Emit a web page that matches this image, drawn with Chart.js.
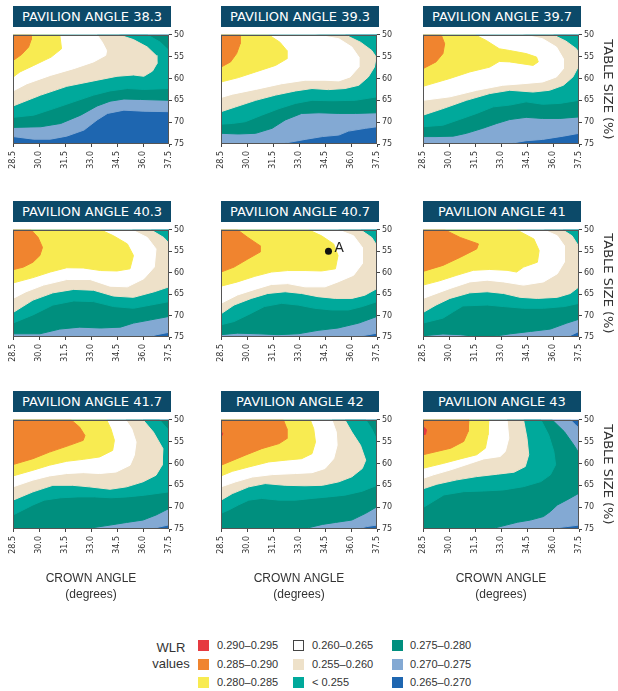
<!DOCTYPE html>
<html>
<head>
<meta charset="utf-8">
<script src="https://cdn.jsdelivr.net/npm/chart.js@4.4.1/dist/chart.umd.min.js"></script>
<style>
  body { margin: 0; background: #fff; width: 618px; height: 691px; position: relative; overflow: hidden; font-family: 'Liberation Sans', sans-serif; color: #333; }
  canvas { position: absolute; }
  .ttl { position: absolute; height: 21px; background: #0c4a69; color: #fff; font: 13px 'DejaVu Sans', sans-serif; line-height: 21px; text-align: center; white-space: nowrap; }
  .wlr { position: absolute; left: 140px; top: 640px; width: 62px; text-align: center; font-size: 13px; line-height: 16px; }
  .sw { position: absolute; width: 11px; height: 11px; box-sizing: border-box; }
  .lt { position: absolute; font-size: 11px; line-height: 11px; white-space: nowrap; }
</style>
</head>
<body>
<script>
// axes
const crownTicks = [28.5, 30.0, 31.5, 33.0, 34.5, 36.0, 37.5];
const crownLabels = ['28.5', '30.0', '31.5', '33.0', '34.5', '36.0', '37.5'];
const tableTicks = [50, 55, 60, 65, 70, 75];
const tableLabels = ['50', '55', '60', '65', '70', '75'];

const pavilionAngles = ['38.3', '39.3', '39.7', '40.3', '40.7', '41', '41.7', '42', '43'];
const wlrRanges = ['0.290–0.295', '0.285–0.290', '0.280–0.285', '0.260–0.265', '0.255–0.260', '< 0.255', '0.275–0.280', '0.270–0.275', '0.265–0.270'];
const bandColors = ['#e63a40', '#f0842f', '#f8eb51', '#ffffff', '#eee1c9', '#00a99b', '#008f7e', '#83a9d3', '#1e66b0'];

const pointA = [{x: 34.7, y: 55.0}];

// outline of each band together with everything inside it, [crown, table]
// index = band in wlrRanges order, null = band not present
const full = [[28.5, 50], [37.5, 50], [37.5, 75], [28.5, 75]];

const pav38_3 = [
  null,
  [[28.5,50],[29.55,50],[29.55,51.1],[29.4,52.8],[29.0,54.5],[28.5,55.9]],
  [[28.5,50],[31.2,50],[31.3,53.2],[30.7,55.1],[29.7,57.0],[28.9,58.5],[28.5,59.7]],
  [[28.5,50],[33.35,50],[33.65,51.7],[33.9,53.6],[33.85,54.7],[33.15,56.2],[32.0,57.75],[30.65,59.3],[29.3,61.2],[28.5,62.85]],
  [[28.5,50],[34.6,50],[35.45,51.1],[36.25,52.8],[36.75,54.7],[36.8,56.6],[36.55,58.3],[36.05,59.5],[35.45,59.2],[34.5,59.5],[33.35,60.4],[31.6,61.8],[30.1,63.8],[28.5,66.3]],
  [[28.5,50],[36.25,50],[37.0,51.7],[37.5,53.6],[37.5,62.3],[36.05,62.5],[35.1,62.3],[34.1,62.85],[33.15,63.8],[32.0,65.35],[30.85,66.9],[29.7,68.4],[28.5,68.9]],
  [[28.5,50],[37.5,50],[37.5,65.0],[35.85,64.8],[34.9,64.7],[34.1,65.2],[33.35,66.3],[32.4,68.4],[31.25,70.3],[30.1,71.05],[28.5,71.2]],
  [[28.5,50],[37.5,50],[37.5,67.6],[36.05,67.5],[34.9,67.25],[33.95,68.0],[33.35,69.5],[32.6,71.8],[31.6,73.2],[30.65,73.9],[29.7,73.9],[28.9,73.5],[28.5,73.3]],
  full
];

const pav39_3 = [
  null,
  [[28.5,50],[29.6,50],[29.6,52.1],[29.4,54.3],[29.05,56.2],[28.5,57.4]],
  [[28.5,50],[31.25,50],[31.9,51.7],[32.3,53.6],[32.3,55.5],[31.65,57.0],[30.5,58.5],[29.5,59.8],[28.5,60.8]],
  [[28.5,50],[33.95,50],[35.3,50.9],[36.05,52.8],[36.45,55.1],[36.45,57.4],[35.95,59.65],[35.3,60.55],[34.5,60.4],[33.35,60.4],[32.0,61.2],[30.5,62.5],[29.15,63.6],[28.5,64.35]],
  [[28.5,50],[35.65,50],[36.55,51.7],[37.2,53.6],[37.45,55.1],[37.35,57.4],[37.0,59.65],[36.45,61.55],[35.65,62.3],[34.7,62.55],[33.75,62.3],[32.8,62.85],[31.65,63.8],[30.5,65.0],[29.35,66.5],[28.5,67.6]],
  [[28.5,50],[37.5,50],[37.5,64.2],[36.25,65.0],[34.9,65.1],[33.75,65.0],[32.8,65.7],[31.85,66.9],[30.85,68.4],[29.9,69.9],[29.15,70.3],[28.5,70.45]],
  [[28.5,50],[37.5,50],[37.5,67.85],[36.25,68.0],[35.3,68.0],[34.15,67.85],[33.15,68.0],[32.2,69.5],[31.45,71.4],[30.5,72.55],[29.5,72.7],[28.5,72.55]],
  [[28.5,50],[37.5,50],[37.5,71.05],[36.85,71.4],[35.85,72.05],[35.3,72.95],[34.35,73.3],[33.35,73.95],[32.6,74.5],[31.85,75],[28.5,75]],
  full
];

const pav39_7 = [
  null,
  [[28.5,50],[29.55,50],[29.75,52.05],[29.65,54.3],[29.25,56.2],[28.5,57.75]],
  [[28.5,50],[31.5,50],[32.15,51.3],[32.9,53.2],[33.5,53.6],[34.45,54.3],[35.05,55.1],[35.15,56.2],[34.85,57.0],[33.5,56.2],[32.9,56.1],[32.35,57.4],[31.2,58.5],[30.05,60.0],[28.5,61.8]],
  [[28.5,50],[34.25,50],[35.4,50.9],[36.2,52.8],[36.6,55.5],[36.6,57.75],[36.2,59.65],[35.4,60.8],[34.25,61.2],[33.1,61.55],[31.6,62.7],[30.05,64.2],[28.5,65.0]],
  [[28.5,50],[36.0,50],[36.75,51.45],[37.35,53.2],[37.5,54.3],[37.45,57.4],[37.15,59.65],[36.6,61.55],[35.8,62.7],[34.85,63.1],[33.5,62.7],[32.35,63.45],[31.0,65.0],[29.65,66.9],[28.5,68.4]],
  [[28.5,50],[37.5,50],[37.5,65.0],[36.4,65.7],[35.4,65.9],[34.45,65.35],[33.5,66.1],[32.55,66.5],[31.6,68.0],[30.6,69.4],[29.65,70.7],[28.5,71.05]],
  [[28.5,50],[37.5,50],[37.5,68.8],[36.4,69.15],[35.4,69.15],[34.45,68.9],[33.5,69.4],[32.75,70.3],[31.95,71.4],[31.0,72.55],[30.25,73.2],[29.25,73.3],[28.5,73.3]],
  [[28.5,50],[37.5,50],[37.5,72.55],[36.6,73.2],[35.4,73.95],[34.45,74.25],[33.3,75],[28.5,75]],
  full
];

const pav40_3 = [
  null,
  [[28.5,50],[29.55,50],[29.95,51.8],[30.2,54.1],[30.05,56.0],[29.65,57.55],[29.1,58.7],[28.5,59.3]],
  [[28.5,50],[33.55,50],[34.3,51.4],[35.1,53.3],[35.45,56.0],[35.25,59.1],[34.5,59.6],[33.55,59.5],[32.55,58.9],[31.6,58.85],[30.65,59.85],[29.65,61.15],[28.5,62.4]],
  [[28.5,50],[35.35,50],[36.25,51.8],[36.75,54.45],[36.65,58.7],[36.05,61.4],[35.1,63.3],[34.1,63.15],[32.95,61.6],[31.6,61.6],[30.25,62.9],[29.25,64.45],[28.5,66.0]],
  [[28.5,50],[36.45,50],[37.2,51.8],[37.5,53.15],[37.5,63.3],[36.65,64.45],[35.45,65.75],[34.3,65.45],[33.15,64.1],[32.0,63.9],[30.8,64.7],[29.65,66.4],[28.5,69.3]],
  [[28.5,50],[37.5,50],[37.5,66.75],[36.45,67.55],[35.45,68.3],[34.3,67.9],[33.15,66.75],[32.0,66.6],[30.8,67.55],[29.65,69.85],[28.5,71.75]],
  [[28.5,50],[37.5,50],[37.5,70.2],[36.45,71.0],[35.45,71.75],[34.7,72.7],[33.55,72.9],[32.35,72.7],[31.2,73.15],[30.05,74.25],[28.5,74.25]],
  [[28.5,50],[37.5,50],[37.5,73.9],[36.8,74.45],[36.25,75],[28.5,75]],
  full
];

const pav40_7 = [
  null,
  [[28.5,50],[29.45,50],[30.05,51.8],[30.75,53.7],[30.75,55.2],[30.05,56.8],[29.25,58.7],[28.5,59.85]],
  [[28.5,50],[33.55,50],[34.3,51.4],[35.0,53.3],[35.25,56.0],[35.1,59.1],[34.3,59.6],[33.35,59.5],[32.35,59.5],[31.4,59.85],[30.45,60.85],[29.45,62.15],[28.5,63.15]],
  [[28.5,50],[35.25,50],[36.15,51.4],[36.65,54.1],[36.65,57.9],[36.15,60.6],[35.25,62.15],[34.5,63.3],[33.35,63.3],[32.35,62.55],[31.4,62.75],[30.45,63.9],[29.45,65.2],[28.5,67.15]],
  [[28.5,50],[36.55,50],[37.2,51.8],[37.5,53.7],[37.5,63.7],[36.8,65.25],[36.05,66.0],[35.1,66.0],[34.1,65.6],[33.15,64.85],[32.2,64.45],[31.2,64.85],[30.25,66.0],[29.25,67.55],[28.5,69.6]],
  [[28.5,50],[37.5,50],[37.5,66.75],[36.65,67.9],[35.85,68.7],[34.9,68.7],[33.9,68.3],[32.95,67.55],[32.0,67.15],[31.0,67.9],[30.05,69.85],[29.25,71.4],[28.5,72.15]],
  [[28.5,50],[37.5,50],[37.5,70.2],[36.45,71.75],[35.25,72.9],[34.1,73.45],[32.95,74.25],[31.8,74.45],[30.65,74.25],[29.45,74.1],[28.5,74.45]],
  [[28.5,50],[37.5,50],[37.5,74.1],[36.8,74.6],[36.45,75],[28.5,75]],
  full
];

const pav41 = [
  null,
  [[28.5,50],[29.75,50],[30.65,51.8],[31.7,53.3],[31.6,54.45],[30.65,56.4],[29.65,58.3],[28.5,59.7]],
  [[28.5,50],[33.9,50],[34.9,52.15],[35.2,54.85],[35.1,57.55],[34.3,58.7],[33.9,59.85],[33.35,59.45],[32.35,59.25],[31.4,59.45],[30.45,60.6],[29.45,61.9],[28.5,62.9]],
  [[28.5,50],[35.45,50],[36.25,51.4],[36.65,53.7],[36.65,57.55],[36.25,60.25],[35.45,62.15],[34.3,62.9],[33.15,62.15],[32.2,61.75],[31.2,62.15],[30.05,63.7],[28.5,66.0]],
  [[28.5,50],[36.55,50],[37.1,51.4],[37.4,53.3],[37.5,54.45],[37.5,63.3],[37.0,64.85],[36.25,65.75],[35.1,66.0],[34.1,65.75],[33.15,64.85],[32.2,64.45],[31.2,64.7],[30.05,66.0],[29.25,67.55],[28.5,69.3]],
  [[28.5,50],[37.5,50],[37.5,67.15],[36.65,67.9],[35.45,68.3],[34.3,68.3],[33.15,67.9],[32.2,67.55],[30.8,67.75],[30.25,69.1],[29.65,70.6],[28.5,71.75]],
  [[28.5,50],[37.5,50],[37.5,70.85],[36.8,71.75],[35.85,73.15],[34.7,73.7],[33.55,74.25],[32.55,74.85],[31.6,74.85],[30.65,74.45],[29.65,74.3],[28.5,74.7]],
  [[28.5,50],[37.5,50],[37.5,73.7],[37.1,74.45],[36.8,75],[28.5,75]],
  full
];

const pav41_7 = [
  null,
  [[28.5,50],[31.85,50],[32.35,51.7],[32.65,53.6],[32.55,54.7],[31.75,55.85],[30.6,57.4],[29.65,58.9],[28.5,60.25]],
  [[28.5,50],[33.9,50],[34.15,52.05],[34.35,54.7],[34.25,57.0],[33.5,58.5],[32.55,59.05],[31.6,59.5],[30.6,60.4],[29.65,61.55],[28.5,62.85]],
  [[28.5,50],[35.0,50],[35.35,52.05],[35.6,55.1],[35.5,58.1],[35.25,60.4],[34.45,61.95],[33.5,62.3],[32.55,62.1],[31.6,62.3],[30.6,62.85],[29.65,63.8],[28.5,65.35]],
  [[28.5,50],[36.0,50],[36.6,52.8],[37.15,56.6],[37.1,60.4],[36.75,62.7],[36.0,64.2],[35.05,65.35],[34.1,65.9],[32.9,65.35],[31.95,65.0],[30.8,65.0],[29.65,66.5],[28.5,68.4]],
  [[28.5,50],[36.95,50],[37.5,52.45],[37.5,66.5],[36.1,67.25],[35.1,67.65],[34.15,67.85],[33.2,67.65],[32.25,67.65],[31.25,67.85],[30.3,68.4],[29.65,69.5],[28.5,71.8]],
  [[28.5,50],[37.5,50],[37.5,70.3],[36.75,71.8],[36.0,72.95],[35.05,73.5],[34.1,74.1],[33.1,74.7],[32.75,75],[28.5,75]],
  [[28.5,50],[37.5,50],[37.5,74.05],[36.75,74.7],[36.2,75],[28.5,75]],
  full
];

const pav42 = [
  [[28.5,52.6],[28.6,53.2],[28.5,54.0]],
  [[28.5,50],[32.1,50],[32.3,52.05],[32.3,54.3],[31.85,55.45],[30.85,56.6],[29.9,58.1],[28.5,60.4]],
  [[28.5,50],[33.65,50],[33.85,52.05],[33.95,55.1],[33.75,57.75],[33.15,58.9],[32.2,59.25],[31.25,59.65],[30.1,60.8],[29.15,61.8],[28.5,62.85]],
  [[28.5,50],[34.9,50],[35.15,52.8],[35.2,55.85],[35.0,58.9],[34.5,61.15],[33.75,62.1],[32.8,62.3],[31.45,62.55],[30.3,63.1],[29.35,64.2],[28.5,65.35]],
  [[28.5,50],[35.65,50],[36.05,52.8],[36.55,55.85],[36.85,59.25],[36.65,61.15],[36.05,63.05],[35.3,64.2],[34.35,65.0],[33.35,65.1],[32.2,65.0],[31.05,64.6],[30.1,65.35],[29.15,66.9],[28.5,68.4]],
  [[28.5,50],[36.85,50],[37.2,52.05],[37.5,54.7],[37.5,65.0],[36.65,66.35],[35.65,67.25],[34.7,67.65],[33.75,68.0],[32.8,68.4],[31.85,68.4],[30.85,68.0],[30.1,68.4],[29.5,69.5],[28.95,70.65],[28.5,71.4]],
  [[28.5,50],[37.5,50],[37.5,69.9],[36.85,71.4],[36.05,72.95],[35.1,73.5],[34.35,73.95],[33.55,74.7],[33.35,75],[28.5,75]],
  [[28.5,50],[37.5,50],[37.5,74.1],[36.9,74.45],[36.35,75],[28.5,75]],
  full
];

const pav43 = [
  [[28.5,51.5],[28.7,52.3],[28.65,53.3],[28.5,53.45]],
  [[28.5,50],[31.15,50],[31.1,52.7],[30.85,54.95],[30.1,56.5],[29.3,57.25],[28.5,58.0]],
  [[28.5,50],[32.3,50],[32.25,53.45],[32.1,56.5],[31.6,58.0],[30.65,58.95],[29.7,59.95],[28.5,61.1]],
  [[28.5,50],[33.35,50],[33.45,54.2],[33.25,57.25],[32.95,58.4],[32.0,58.95],[31.25,59.95],[30.1,61.45],[29.1,62.6],[28.5,63.4]],
  [[28.5,50],[34.3,50],[34.5,54.2],[34.6,58.0],[34.4,60.7],[33.75,62.0],[32.8,62.45],[31.6,63.0],[30.45,63.75],[29.3,64.75],[28.5,65.8]],
  [[28.5,50],[35.3,50],[35.75,53.45],[36.05,57.25],[36.15,60.3],[35.85,62.6],[35.3,64.15],[34.3,65.3],[33.15,66.05],[32.0,66.3],[30.85,66.45],[29.7,67.2],[28.5,70.1]],
  [[28.5,50],[35.95,50],[36.65,52.7],[37.2,55.75],[37.5,57.65],[37.5,66.8],[36.8,68.35],[36.25,69.5],[35.85,71.0],[35.45,72.15],[34.7,72.95],[33.95,73.45],[32.95,74.45],[32.4,75],[28.5,75]],
  [[28.5,50],[37.0,50],[37.3,51.15],[37.5,51.9],[37.5,74.1],[36.8,74.45],[36.25,74.7],[35.85,75],[28.5,75]],
  full
];

const panels = [pav38_3, pav39_3, pav39_7, pav40_3, pav40_7, pav41, pav41_7, pav42, pav43];

// layout of the grid (plot area corners in page pixels)
const plotLeft = [13, 221, 423];
const plotTop = [34, 229, 419];
const plotH = [110, 108, 110];
const plotW = 156;

// thin frame around each plot
const frame = {
  id: 'frame',
  afterDatasetsDraw(chart) {
    const a = chart.chartArea, c = chart.ctx;
    c.save();
    c.strokeStyle = '#555';
    c.lineWidth = 1;
    c.strokeRect(Math.round(a.left) + 0.5, Math.round(a.top) + 0.5, Math.round(a.width) - 1, Math.round(a.height) - 1);
    c.restore();
  }
};

// letter next to point A
const labelA = {
  id: 'labelA',
  afterDatasetsDraw(chart) {
    const x = chart.scales.x.getPixelForValue(pointA[0].x);
    const y = chart.scales.y.getPixelForValue(pointA[0].y);
    const c = chart.ctx;
    c.save();
    c.fillStyle = '#222';
    c.font = "14px 'Liberation Sans'";
    c.textBaseline = 'alphabetic';
    c.fillText('A', x + 6, y + 1);
    c.restore();
  }
};

function makePanel(i) {
  const col = i % 3, row = Math.floor(i / 3);
  const yw = col === 2 ? 36 : 26;
  const xh = row === 2 ? 74 : 30;
  const cv = document.createElement('canvas');
  cv.width = 8 + plotW + yw + 2;
  cv.height = 6 + plotH[row] + xh + 2;
  cv.style.left = (plotLeft[col] - 8) + 'px';
  cv.style.top = (plotTop[row] - 6) + 'px';
  document.body.appendChild(cv);

  const ttl = document.createElement('div');
  ttl.className = 'ttl';
  ttl.style.left = plotLeft[col] + 'px';
  ttl.style.top = (plotTop[row] - 28) + 'px';
  ttl.style.width = (plotW + 2) + 'px';
  ttl.textContent = 'PAVILION ANGLE ' + pavilionAngles[i];
  document.body.appendChild(ttl);

  const datasets = [];
  if (i === 4) {
    datasets.push({ data: pointA, showLine: false, fill: false, pointRadius: 3.5, pointBackgroundColor: '#111', pointBorderWidth: 0 });
  }
  panels[i].forEach((pts, k) => {
    if (!pts) return;
    datasets.push({
      data: pts.map(p => ({x: p[0], y: p[1]})),
      fill: 'shape',
      backgroundColor: bandColors[k],
      borderColor: bandColors[k],
      borderWidth: 1,
      pointRadius: 0,
      tension: 0
    });
  });

  const tickFont = {family: 'DejaVu Sans', size: 8};
  new Chart(cv, {
    type: 'line',
    data: { datasets },
    options: {
      responsive: false,
      animation: false,
      events: [],
      layout: { padding: { left: 8, top: 6, right: 2, bottom: 2 } },
      plugins: { legend: { display: false }, tooltip: { enabled: false } },
      scales: {
        x: {
          type: 'linear', min: 28.5, max: 37.5,
          afterBuildTicks: s => { s.ticks = crownTicks.map(v => ({value: v})); },
          afterFit: s => { s.height = xh; },
          ticks: { autoSkip: false, minRotation: 90, maxRotation: 90, padding: 4, color: '#333', font: tickFont,
                   callback: (v, idx) => crownLabels[idx] },
          grid: { drawOnChartArea: false, tickLength: 3, color: '#444' },
          border: { display: false },
          title: { display: row === 2, text: ['CROWN ANGLE', '(degrees)'], color: '#333', padding: 0,
                   font: { family: 'Liberation Sans', size: 12, lineHeight: 1.33 } }
        },
        y: {
          type: 'linear', position: 'right', reverse: true, min: 50, max: 75,
          afterBuildTicks: s => { s.ticks = tableTicks.map(v => ({value: v})); },
          afterFit: s => { s.width = yw; },
          ticks: { padding: 2, color: '#333', font: tickFont, callback: (v, idx) => tableLabels[idx] },
          grid: { drawOnChartArea: false, tickLength: 3, color: '#444' },
          border: { display: false },
          title: { display: col === 2, text: 'TABLE SIZE (%)', color: '#333', padding: 0,
                   font: { family: 'DejaVu Sans', size: 13 } }
        }
      }
    },
    plugins: i === 4 ? [frame, labelA] : [frame]
  });
}

for (let i = 0; i < 9; i++) makePanel(i);

// legend
const wlr = document.createElement('div');
wlr.className = 'wlr';
wlr.innerHTML = 'WLR<br>values';
document.body.appendChild(wlr);

const swLeft = [198, 293, 392];
const txtLeft = [217, 312, 410];
const rowTop = [640, 658.5, 677];
wlrRanges.forEach((label, k) => {
  const col = Math.floor(k / 3), r = k % 3;
  const sw = document.createElement('div');
  sw.className = 'sw';
  sw.style.left = swLeft[col] + 'px';
  sw.style.top = rowTop[r] + 'px';
  sw.style.background = bandColors[k];
  if (k === 3) sw.style.border = '1.5px solid #444';
  document.body.appendChild(sw);
  const t = document.createElement('div');
  t.className = 'lt';
  t.style.left = txtLeft[col] + 'px';
  t.style.top = rowTop[r] + 'px';
  t.textContent = label;
  document.body.appendChild(t);
});
</script>
</body>
</html>
